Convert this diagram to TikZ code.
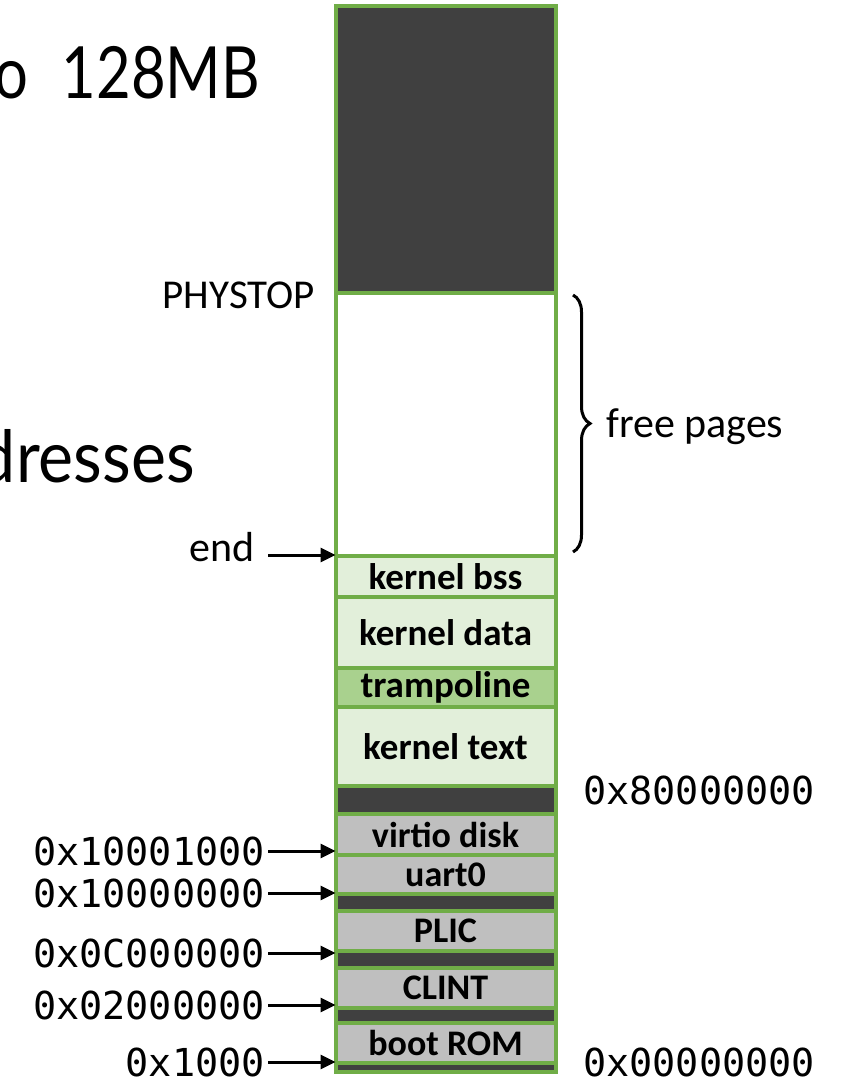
\documentclass[tikz,border=0pt]{standalone}
\usepackage{fontspec}
\setmainfont{Carlito}
\newfontfamily\monofont{DejaVu Sans Mono}
\newfontfamily\titlefont{Lato}
\usetikzlibrary{arrows.meta,decorations.pathreplacing}
\definecolor{grn}{HTML}{70AD47}
\definecolor{darkfill}{HTML}{404040}
\definecolor{lightgrn}{HTML}{E2EFDA}
\definecolor{midgrn}{HTML}{A9D18E}
\definecolor{grayfill}{HTML}{BFBFBF}
\begin{document}
\begin{tikzpicture}[x=1pt,y=-1pt,
  blk/.style={draw=grn, line width=4pt, minimum width=220pt, inner sep=0pt, anchor=center},
  darkblk/.style={blk, fill=darkfill},
  kblk/.style={blk, fill=lightgrn, font=\bfseries\fontsize{37}{39}\selectfont},
  tblk/.style={blk, fill=midgrn, font=\bfseries\fontsize{37}{39}\selectfont},
  gblk/.style={blk, fill=grayfill, font=\bfseries\fontsize{36}{38}\selectfont},
  addr/.style={inner xsep=3pt, inner ysep=0pt, font=\monofont\fontsize{38.5}{41}\selectfont},
  lbl/.style={inner sep=0pt, font=\fontsize{42}{44}\selectfont},
  ptr/.style={line width=3pt, -{Triangle[length=15pt,width=14pt]}},
  ttl/.style={inner sep=0pt, font=\titlefont\fontsize{72}{76}\selectfont}
]
\useasboundingbox (0,0) rectangle (841,1081);

% title fragments
\node[ttl, anchor=base east, xscale=0.83] (t1) at (260,99) {o\hspace{40pt}128MB};
\node[ttl, anchor=base east, xscale=0.92] (t2) at (195,482) {dresses};

% memory column
\node[darkblk, minimum height=286.5pt] (top) at (445.5,149.75) {};
\node[blk, fill=white, minimum height=263pt] (free) at (445.5,424.5) {};
\node[kblk, minimum height=41pt] (bss) at (445.5,576.5) {kernel bss};
\node[kblk, minimum height=71pt] (data) at (445.5,632.5) {kernel data};
\node[tblk, minimum height=39pt] (tramp) at (445.5,687.5) {trampoline};
\node[kblk, minimum height=79pt] (ktext) at (445.5,746.5) {kernel text};
\node[darkblk, minimum height=28pt] (d1) at (445.5,800) {};
\node[gblk, minimum height=41pt] (virtio) at (445.5,834.5) {virtio disk};
\node[gblk, minimum height=39pt] (uart) at (445.5,874.5) {uart0};
\node[darkblk, minimum height=17pt] (d2) at (445.5,902.5) {};
\node[gblk, minimum height=40pt] (plic) at (445.5,931) {PLIC};
\node[darkblk, minimum height=17pt] (d3) at (445.5,959.5) {};
\node[gblk, minimum height=40pt] (clint) at (445.5,988) {CLINT};
\node[darkblk, minimum height=15pt] (d4) at (445.5,1015.5) {};
\node[gblk, minimum height=40pt] (rom) at (445.5,1043) {boot ROM};
\node[darkblk, minimum height=9pt] (d5) at (445.5,1067.5) {};

% labels
\node[lbl, anchor=base east, font=\fontsize{41}{43}\selectfont] (phystop) at (315,308) {PHYSTOP};
\node[lbl, anchor=base west] (freelbl) at (606,437) {free pages};
\node[lbl, anchor=base east] (endlbl) at (255,561) {end};

\node[addr, anchor=west] (a80) at (580,790) {0x80000000};
\node[addr, anchor=west] (a00) at (580,1062) {0x00000000};

\node[addr, anchor=east] (a1) at (268,851) {0x10001000};
\node[addr, anchor=east] (a2) at (268,893) {0x10000000};
\node[addr, anchor=east] (a3) at (268,953) {0x0C000000};
\node[addr, anchor=east] (a4) at (268,1005) {0x02000000};
\node[addr, anchor=east] (a5) at (268,1062) {0x1000};

% arrow targets on the column edge
\coordinate (cend) at (335.5,555);
\coordinate (c1) at (335.5,851);
\coordinate (c2) at (335.5,893);
\coordinate (c3) at (335.5,953);
\coordinate (c4) at (335.5,1005);
\coordinate (c5) at (335.5,1062);

\draw[ptr] (268,555) -- (cend);
\draw[ptr] (a1.east) -- (c1);
\draw[ptr] (a2.east) -- (c2);
\draw[ptr] (a3.east) -- (c3);
\draw[ptr] (a4.east) -- (c4);
\draw[ptr] (a5.east) -- (c5);

% brace
\coordinate (bt) at (573,295);
\coordinate (bb) at (573,552);
\draw[line width=3pt, decorate, decoration={brace, amplitude=17pt}] (bt) -- (bb);
\end{tikzpicture}
\end{document}
